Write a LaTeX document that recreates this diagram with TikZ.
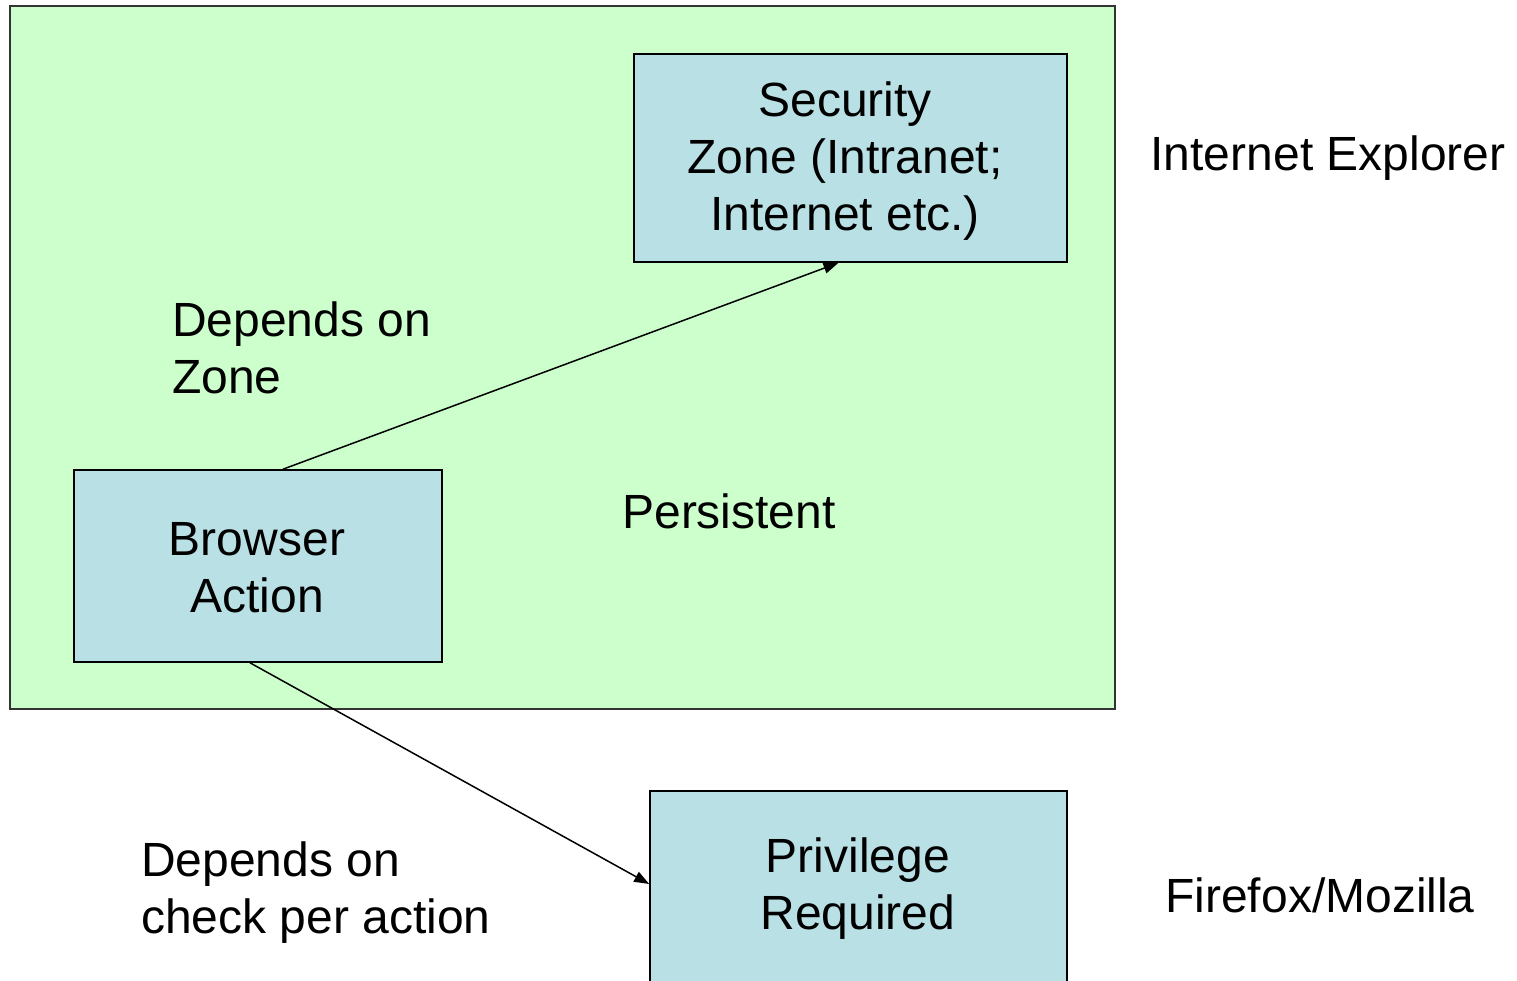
\documentclass[tikz,border=0pt]{standalone}
\usepackage{fontspec}
\setmainfont{Liberation Sans}
\usetikzlibrary{arrows.meta}
\definecolor{zonegreen}{HTML}{CCFFCC}
\definecolor{boxblue}{HTML}{B9E0E4}
\tikzset{
  lbl/.style={font=\fontsize{48}{57}\selectfont, inner sep=0pt},
  box/.style={draw=black, line width=1.6pt, fill=boxblue, inner sep=0pt},
  conn/.style={line width=1.5pt, -{Triangle[length=15pt,width=11pt]}},
}
\begin{document}
\begin{tikzpicture}[x=1pt,y=-1pt]
\clip (0,0) rectangle (1517,981);
\fill[white] (0,0) rectangle (1517,981);
\node[draw=black!80, line width=1.8pt, fill=zonegreen, minimum width=1105pt, minimum height=703pt, inner sep=0pt] (ie) at (562.5,357.5) {};
\node[box, minimum width=433pt, minimum height=208pt] (sz) at (850.5,158) {};
\node[box, minimum width=368pt, minimum height=192pt] (ba) at (258,566) {};
\node[box, minimum width=417pt, minimum height=192pt] (pr) at (858.5,887) {};
\node[lbl, align=center] (szt) at (845,161) {Security\\Zone (Intranet;\\Internet etc.)};
\node[lbl, align=center] (bat) at (257,568) {Browser\\Action};
\node[lbl, align=center] (prt) at (858,889) {Privilege\\Required};
\node[lbl, align=left, anchor=west] (dz) at (172,348) {Depends on\\Zone};
\node[lbl] (per) at (729,511) {Persistent};
\node[lbl] (iel) at (1328,158) {Internet Explorer};
\node[lbl] (ff) at (1320,895) {Firefox/Mozilla};
\node[lbl, align=left, anchor=west] (dc) at (141,893) {Depends on\\check per action};
\draw[conn] ([xshift=25pt]ba.north) -- ([xshift=-12pt]sz.south);
\draw[conn] ([xshift=-8pt]ba.south) -- ([yshift=3pt]pr.west);
\end{tikzpicture}
\end{document}
